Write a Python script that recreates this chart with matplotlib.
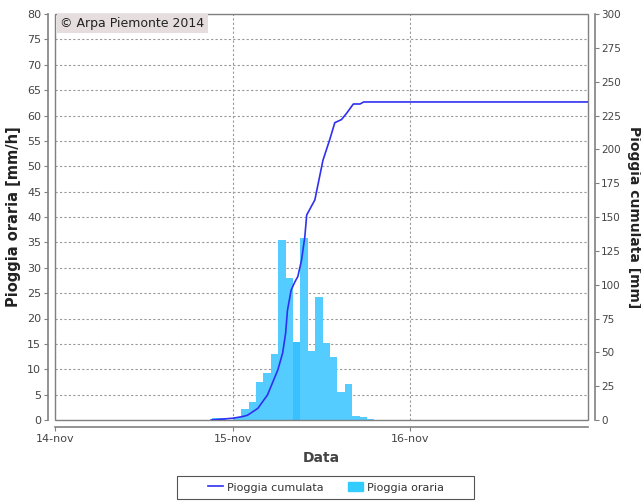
import matplotlib
matplotlib.use("Agg")
import matplotlib.pyplot as plt
from matplotlib.patches import Rectangle
import numpy as np

# hourly rain, hours from 15-nov 00:00 (bar start)
hour_start = [-3, -2, -1, 0, 1, 2, 3, 4, 5, 6, 7, 8, 9, 10, 11, 12, 13, 14, 15, 16, 17, 18]
rain_hourly = [0.3, 0.3, 0.0, 0.6, 2.1, 3.6, 7.5, 9.3, 13.0, 35.5, 27.9, 15.4, 35.9,
               13.5, 24.3, 15.1, 12.5, 5.6, 7.1, 0.8, 0.5, 0.15]

# cumulated rain, hours from 15-nov 00:00
cum_hours = [-2.9, 0.0, 1.3, 2.0, 3.4, 4.7, 6.1, 6.75, 7.15, 7.4, 7.9, 8.4, 8.8, 9.3,
             9.75, 10.0, 11.1, 12.2, 13.1, 13.8, 14.7, 15.4, 16.3, 17.2, 17.7, 48.0]
cum_rain = [0, 1.3, 2.5, 3.5, 8.6, 18.5, 37, 49.5, 64, 81, 96, 102, 106, 118,
            135.5, 151.5, 162.6, 192, 207, 219.7, 222, 226.7, 233.5, 233.5, 235, 235]

day_ticks = [-24, 0, 24]
day_labels = ["14-nov", "15-nov", "16-nov"]

BAR_OFFSET = 0.15
grey = "#808080"
txt = "#444444"

fig = plt.figure(figsize=(6.41, 5.01), dpi=100)
ax = fig.add_axes([55/641, 81/501, 533/641, 406/501])
ax2 = ax.twinx()

bar_cols = ["#55CCFF"] * len(hour_start)
bar_cols[hour_start.index(8)] = "#38C0FF"
ax.bar(np.array(hour_start) + BAR_OFFSET, rain_hourly, width=1.0, align="edge",
       color=bar_cols, linewidth=0, zorder=2)

ax2.plot(cum_hours, cum_rain, color="#3030F0", lw=1.2, zorder=3)

ax.set_xlim(-24, 48)
ax.set_ylim(0, 80)
ax2.set_ylim(0, 300)
ax.set_yticks(np.arange(0, 81, 5))
ax2.set_yticks(np.arange(0, 301, 25))
ax.set_xticks(day_ticks)
ax.set_xticklabels(day_labels)

ax.grid(True, color="#999999", linestyle=(0, (2, 2)), linewidth=0.8)
ax.set_axisbelow(True)

for a in (ax, ax2):
    for s in a.spines.values():
        s.set_visible(False)
    a.tick_params(colors=grey, labelcolor=txt, labelsize=8, length=3, width=0.8, pad=2)
ax2.tick_params(labelsize=7.5, pad=1.5)
ax.spines["left"].set_visible(True)
ax.spines["bottom"].set_visible(True)
ax2.spines["right"].set_visible(True)
for s in (ax.spines["left"], ax.spines["bottom"], ax2.spines["right"]):
    s.set_position(("outward", 5))
    s.set_color(grey)
    s.set_linewidth(1.2)

ax.add_patch(Rectangle((0, 0), 1, 1, transform=ax.transAxes, fill=False,
                       edgecolor=grey, lw=1.0, zorder=5, clip_on=False))

ax.set_ylabel("Pioggia oraria [mm/h]", fontsize=10.5, fontweight="bold", color="#222222", labelpad=4)
ax2.set_ylabel("Pioggia cumulata [mm]", fontsize=10, fontweight="bold", color="#222222",
               rotation=270, va="center")
ax2.yaxis.set_label_coords((634 - 55) / 533, 0.5)
ax.set_xlabel("Data", fontsize=10, fontweight="bold", color="#444444", labelpad=5)

ax.text(0.01, 0.992, "© Arpa Piemonte 2014", transform=ax.transAxes, fontsize=9,
        color="#222222", va="top", ha="left", zorder=6,
        bbox=dict(boxstyle="square,pad=0.25", facecolor="#E6DEDE", edgecolor="none"))

# legend (frame drawn separately to match the wide box)
h1, = ax2.plot([], [], color="#3030F0", lw=1.2)
h2 = Rectangle((0, 0), 1, 1, color="#33CCFF")
leg = fig.legend([h1, h2], ["Pioggia cumulata", "Pioggia oraria"], loc="center",
                 bbox_to_anchor=(0.508, 0.027), ncol=2, fontsize=8, frameon=False,
                 handlelength=1.4, handleheight=0.9, columnspacing=2.2,
                 handletextpad=0.3)
for t in leg.get_texts():
    t.set_color("#333333")
fig.patches.append(Rectangle((177/641, 2/501), 297/641, 23/501, transform=fig.transFigure,
                             fill=False, edgecolor="#555555", lw=0.8))

fig.savefig("out.png", dpi=100)
